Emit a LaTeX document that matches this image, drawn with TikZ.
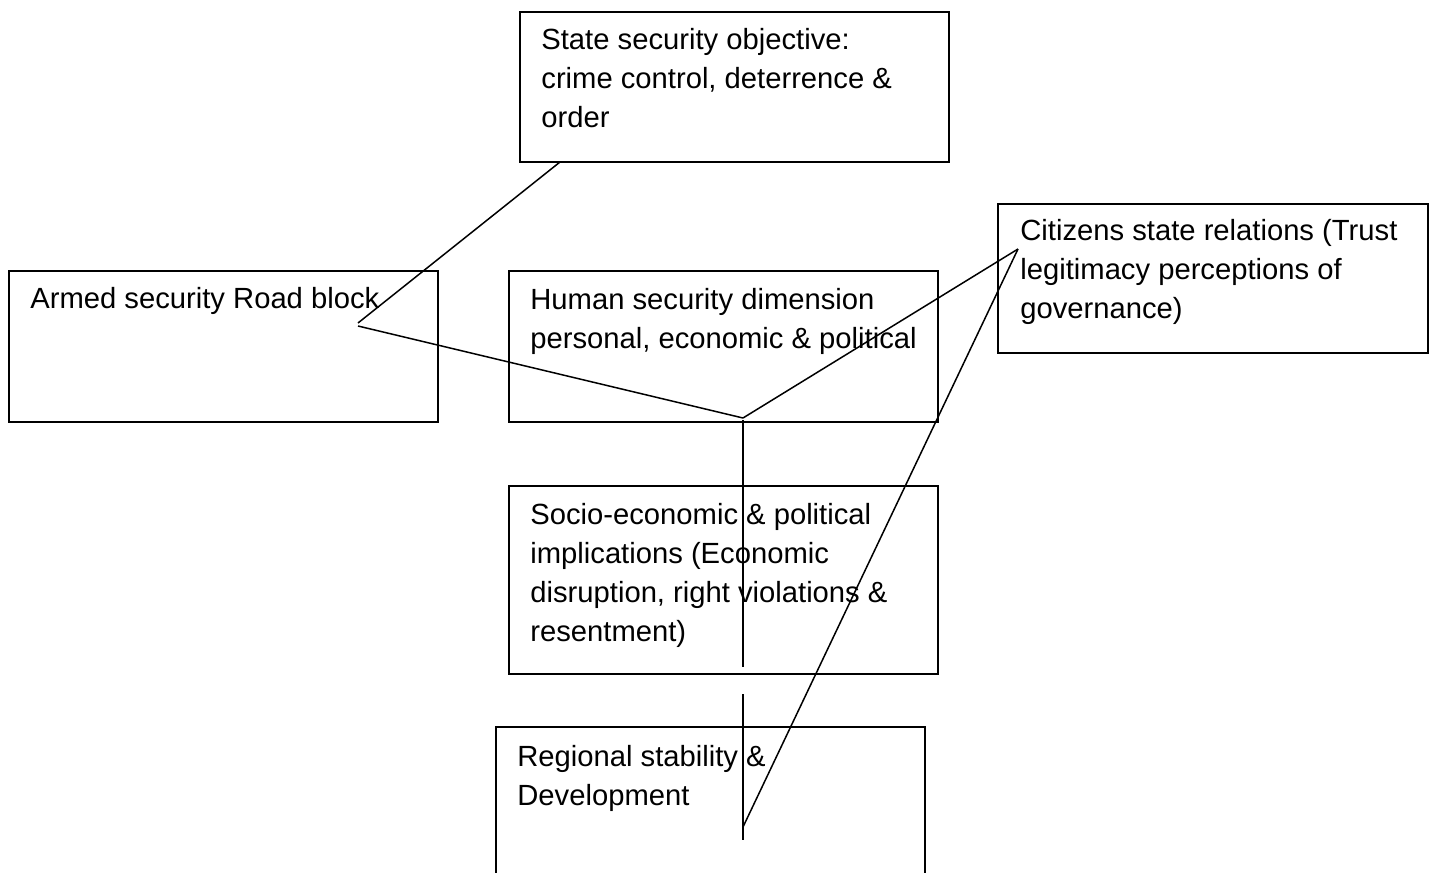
\documentclass[tikz,border=0pt]{standalone}
\usepackage{fontspec}
\setmainfont{Liberation Sans}
\usetikzlibrary{fit}
\begin{document}
\begin{tikzpicture}[x=0.5pt,y=-0.5pt,
  box/.style={draw, line width=0.9pt, rectangle, inner sep=0pt, outer sep=0pt},
  lbl/.style={anchor=base west, inner sep=0pt, align=left, font=\fontsize{14.6}{19.5}\selectfont},
  conn/.style={line width=0.75pt}]
\useasboundingbox (0,0) rectangle (1432,873);
% boxes
\node[box, fit={(520,12) (949,162)}] (state) {};
\node[box, fit={(9,271) (438,422)}] (armed) {};
\node[box, fit={(509,271) (938,422)}] (human) {};
\node[box, fit={(998,204) (1428,353)}] (citizens) {};
\node[box, fit={(509,486) (938,674)}] (socio) {};
\node[inner sep=0pt, outer sep=0pt, fit={(496,727) (925,873)}] (regional) {};
\draw[line width=0.9pt] (regional.south west) -- (regional.north west) -- (regional.north east) -- (regional.south east);
% labels (base anchor = baseline of the last line)
\node[lbl] (tstate) at (541,127) {State security objective:\\crime control, deterrence \&\\order};
\node[lbl] (tarmed) at (30,308) {Armed security Road block};
\node[lbl] (thuman) at (530,348) {Human security dimension\\personal, economic \& political};
\node[lbl] (tcit) at (1020,318) {Citizens state relations (Trust\\legitimacy perceptions of\\governance)};
\node[lbl] (tsocio) at (530,641) {Socio-economic \& political\\implications (Economic\\disruption, right violations \&\\resentment)};
\node[lbl] (treg) at (517,805) {Regional stability \&\\Development};
% connector points
\coordinate (s1) at (560,162);
\coordinate (a1) at (358,323);
\coordinate (a2) at (358,326);
\coordinate (hub) at (743,418);
\coordinate (c1) at (1018,249);
\coordinate (v1a) at (743,420);
\coordinate (v1b) at (743,667);
\coordinate (v2a) at (743,694);
\coordinate (v2b) at (743,840);
\coordinate (d1) at (743,827);
% connectors
\draw[conn] (s1) -- (a1);
\draw[conn] (a2) -- (hub);
\draw[conn] (hub) -- (c1);
\draw[conn] (v1a) -- (v1b);
\draw[conn] (v2a) -- (v2b);
\draw[conn] (c1) -- (d1);
\end{tikzpicture}
\end{document}
